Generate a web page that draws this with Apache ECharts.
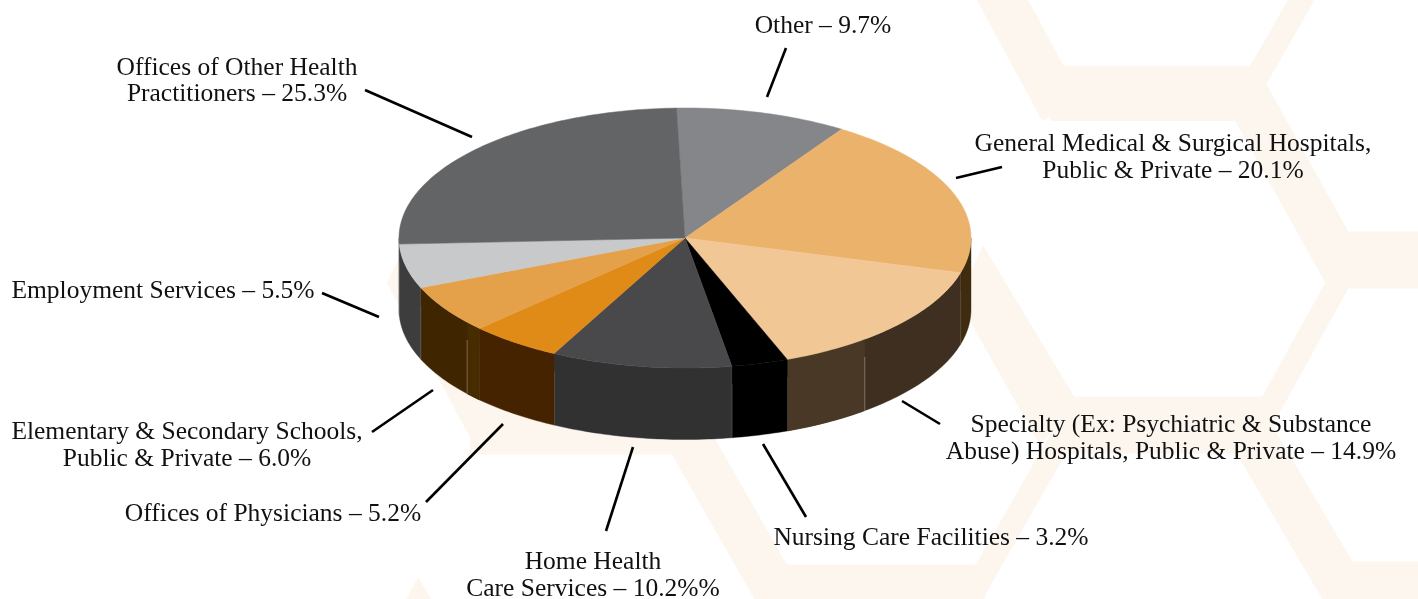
<!DOCTYPE html>
<html><head><meta charset="utf-8">
<style>html,body{margin:0;padding:0;background:#fff}#c{width:1418px;height:599px}</style>
<script src="https://cdn.jsdelivr.net/npm/echarts@6/dist/echarts.min.js"></script>
</head><body><div id="c"></div>
<script>
// data, clockwise from the top of the pie
const names = ['Other','General Medical & Surgical Hospitals, Public & Private','Specialty (Ex: Psychiatric & Substance Abuse) Hospitals, Public & Private','Nursing Care Facilities','Home Health Care Services','Offices of Physicians','Elementary & Secondary Schools, Public & Private','Employment Services','Offices of Other Health Practitioners'];
const values = [9.7,20.1,14.9,3.2,10.2,5.2,6.0,5.5,25.3];
const topColors = ['#85868a','#ebb26c','#f1c795','#000000','#49494b','#e08a17','#e5a149','#c8c9cb','#636466'];
const sideColors = ['#5a5a5c','#3f2b0e','#3e2f20','#000000','#313131','#452200','#3f2500','#3d3d3e','#3d3d3e'];
// a facet of the side wall with its own tone: [slice index, start fraction, end fraction, colour]
const sideFacets = [[2,0.664,1,'#4a3826'],[6,0,0.17,'#472c00']];
const labelTexts = ['Other – 9.7%','General Medical & Surgical Hospitals,\nPublic & Private – 20.1%','Specialty (Ex: Psychiatric & Substance\nAbuse) Hospitals, Public & Private – 14.9%','Nursing Care Facilities – 3.2%','Home Health\nCare Services – 10.2%%','Offices of Physicians – 5.2%','Elementary & Secondary Schools,\nPublic & Private – 6.0%','Employment Services – 5.5%','Offices of Other Health\nPractitioners – 25.3%'];

const FONT = '25.5px "Liberation Serif", serif';
const labelPos = [[823,26],[1173,158],[1171,439],[931,538],[593,576],[273,514],[187,446],[163,291],[237,81.5]];
const leaders = [[786,48,767,97],[1002,167,956,178],[902,401,940,424],[763,444,806,517],[633,447,606,531],[503,424,426,502],[433,390,372,432],[322,293,379,317],[365,90,472,137]];

const START = -1.7, DEPTH = 0.55, PALE = '#fdf6ef';
const total = values.reduce((a,b)=>a+b,0);
const spans = []; let acc = 0;
values.forEach(v=>{ const a0 = START + acc/total*360; acc += v; spans.push([a0, START + acc/total*360]); });
const rad = d=>d*Math.PI/180;
const rim = (api,d,drop)=>api.coord([Math.sin(rad(d)), Math.cos(rad(d)) - (drop||0)]);
function wall(api,a0,a1,fill){
  const s = Math.max(a0,90), e = Math.min(a1,270);
  if (e<=s) return null;
  const up=[],dn=[], n=Math.max(2,Math.ceil(e-s));
  for(let i=0;i<=n;i++){ const d=s+(e-s)*i/n; up.push(rim(api,d)); dn.unshift(rim(api,d,DEPTH)); }
  return {type:'polygon',shape:{points:up.concat(dn)},style:{fill:fill,stroke:fill,lineWidth:0.4}};
}
function seam(api,d){
  if(d<90||d>270) return null;
  const p=rim(api,d,DEPTH*0.25), q=rim(api,d,DEPTH);
  return {type:'line',shape:{x1:p[0],y1:p[1],x2:q[0],y2:q[1]},style:{stroke:'rgba(255,255,255,0.3)',lineWidth:1}};
}
function renderSide(params,api){
  const i=params.dataIndex,[a0,a1]=spans[i],kids=[];
  const w=wall(api,a0,a1,sideColors[i]); if(w) kids.push(w);
  sideFacets.filter(f=>f[0]===i).forEach(f=>{
    const k=wall(api,a0+(a1-a0)*f[1],a0+(a1-a0)*f[2],f[3]); if(k) kids.push(k);
    const cut=f[1]>0?f[1]:f[2];
    const m=seam(api,a0+(a1-a0)*cut); if(m) kids.push(m);
  });
  const m=seam(api,a1); if(m) kids.push(m);
  return {type:'group',children:kids};
}
function renderTop(params,api){
  const i=params.dataIndex,[a0,a1]=spans[i],pts=[api.coord([0,0])];
  const n=Math.ceil(a1-a0);
  for(let k=0;k<=n;k++) pts.push(rim(api,a0+(a1-a0)*k/n));
  return {type:'polygon',shape:{points:pts},style:{fill:topColors[i],stroke:topColors[i],lineWidth:0.5}};
}
const rows = values.map((v,i)=>({name:names[i],value:[i,v]}));

const band = (w,x1,y1,x2,y2)=>({type:'polyline',z:-10,silent:true,shape:{points:[[x1,y1],[x2,y2]]},style:{stroke:PALE,lineWidth:w,fill:null}});
const patch = pts=>({type:'polygon',z:-10,silent:true,shape:{points:pts},style:{fill:PALE}});
const H=57, WIDE=45, THIN=23;
const background = [
  band(55,1050,93.5,1262,93.5), band(H,1335,260,1430,260), band(H,1060,425,1265,425), band(H,1340,590,1430,590), band(H,760,593,985,593), band(H,470,426,682,426),
  band(WIDE,997,-10,1062,110), band(THIN,1307,-10,1248,93), band(WIDE,1245,92,1345,272),
  band(THIN,1352,258,1258,428), band(WIDE,1246,425,1346,595), band(THIN,1070,423,970,598),
  band(WIDE,680,423,778,595),
  patch([[983,245],[1078,403],[1040,445],[958,300]]),
  patch([[397,262],[387,283],[473,443],[520,430],[440,270]]),
  patch([[418,577],[406,600],[432,600]])
];
const leaderEls = leaders.map(l=>({type:'line',z:50,silent:true,shape:{x1:l[0],y1:l[1],x2:l[2],y2:l[3]},style:{stroke:'#000',lineWidth:2.6}}));
const labelEls = labelTexts.map((t,i)=>({type:'text',z:60,silent:true,x:labelPos[i][0],y:labelPos[i][1],style:{text:t,font:FONT,fill:'#111',align:'center',verticalAlign:'middle',lineHeight:26.5}}));

const chart = echarts.init(document.getElementById('c'),null,{renderer:'canvas'});
chart.setOption({
  animation:false, backgroundColor:'#fff', tooltip:{show:false},
  grid:{left:399,top:108,width:572,height:260},
  xAxis:{type:'value',min:-1,max:1,show:false},
  yAxis:{type:'value',min:-1,max:1,show:false},
  graphic:{elements:background.concat(leaderEls,labelEls)},
  series:[
    {type:'custom',coordinateSystem:'cartesian2d',clip:false,silent:true,z:2,renderItem:renderSide,encode:{x:0,y:1},data:rows},
    {type:'custom',coordinateSystem:'cartesian2d',clip:false,silent:true,z:3,renderItem:renderTop,encode:{x:0,y:1},data:rows}
  ]
});
</script></body></html>
